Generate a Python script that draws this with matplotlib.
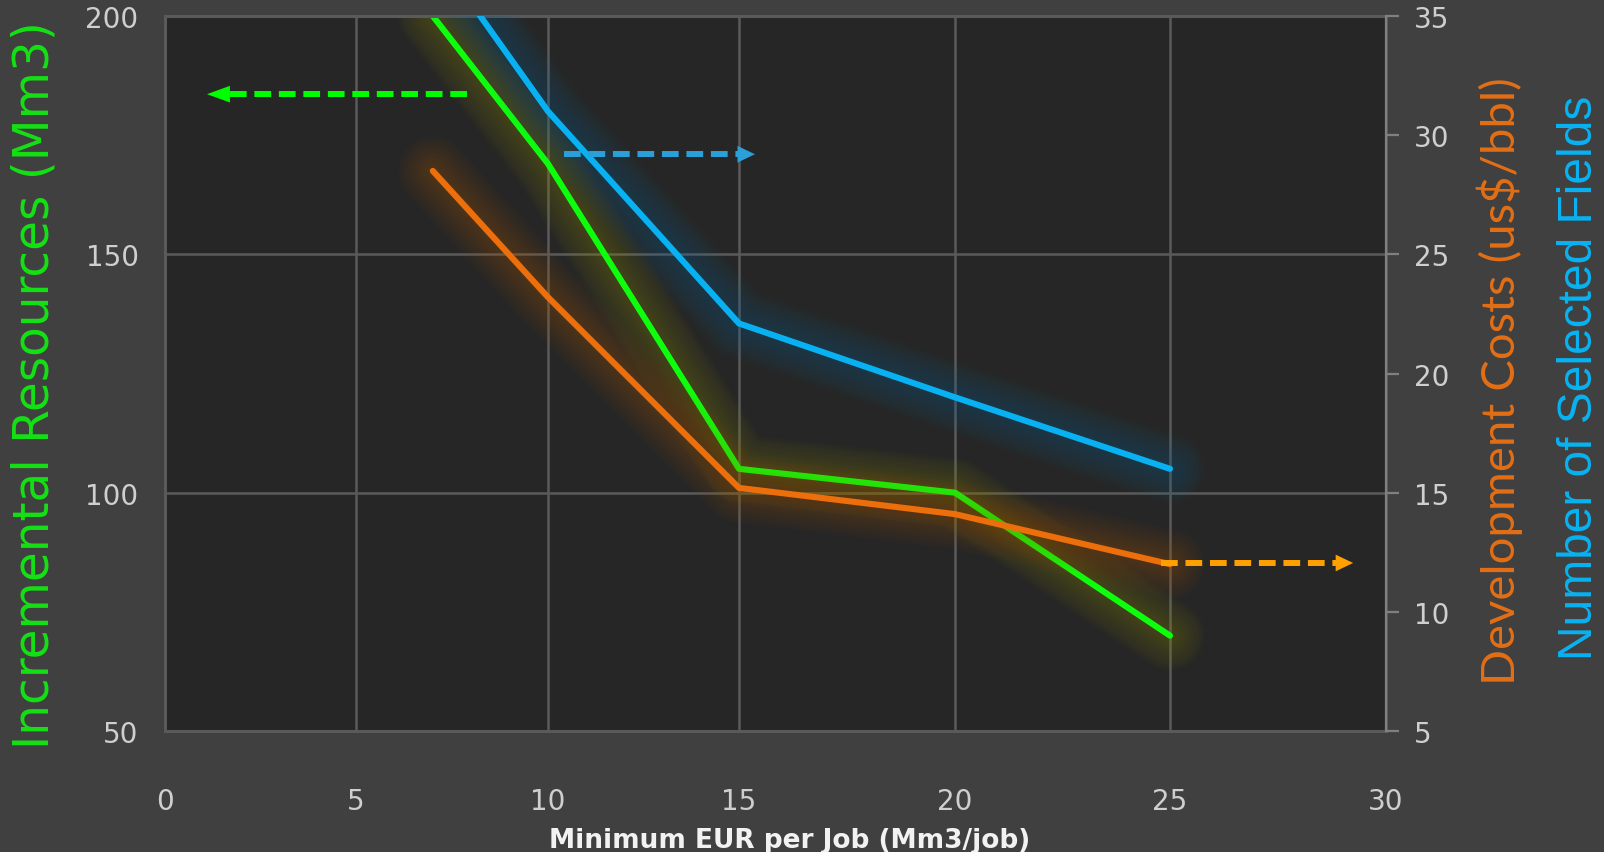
import numpy as np
import matplotlib
matplotlib.use("Agg")
from matplotlib import pyplot as plt

# minimum EUR per job (Mm3/job)
eur_per_job = [7, 10, 15, 20, 25]
# incremental resources, Mm3 (left axis)
incremental_resources = [200, 169, 105, 100, 70]
# development costs, us$/bbl (right axis)
development_costs = [28.5, 23.2, 15.2, 14.1, 12.0]
# number of selected fields, drawn against the right axis
selected_fields = [37.8, 31.0, 22.1, 19.0, 16.0]

x_ticks = [0, 5, 10, 15, 20, 25, 30]
left_ticks = [50, 100, 150, 200]
right_ticks = [5, 10, 15, 20, 25, 30, 35]

# the x axis is not evenly spaced: relative width of each 5-unit band
band_widths = [191, 192, 191, 216, 215, 216]

BG_OUT = "#404040"
BG_IN = "#262626"
GRID = "#5a5a5a"
TICK_TXT = "#cfcfcf"
GREEN = "#0dff0d"
ORANGE = "#ec6f0c"
BLUE = "#08b2f2"

tick_font = ["Liberation Sans Narrow", "DejaVu Sans"]

# piecewise linear mapping for the uneven x axis
xp = np.array(x_ticks, float)
fp = np.concatenate([[0], np.cumsum(band_widths)]) * 30.0 / sum(band_widths)
xp_ext = np.r_[xp[0] - 100, xp, xp[-1] + 100]
fp_ext = np.r_[fp[0] - 100, fp, fp[-1] + 100]


def fwd(v):
    return np.interp(v, xp_ext, fp_ext)


def inv(v):
    return np.interp(v, fp_ext, xp_ext)


def glow_line(axis, x, y, color, glow):
    # soft halo made of wide, faint strokes under the main line
    for w in np.linspace(50, 8, 12):
        axis.plot(x, y, color=glow, lw=w, alpha=0.028,
                  solid_capstyle="round", solid_joinstyle="round")
    axis.plot(x, y, color=color, lw=4.4,
              solid_capstyle="round", solid_joinstyle="round")


def dashed_arrow(axis, x0, x1, tip, y, color, head_len):
    axis.plot([x0, x1], [y, y], color=color, lw=4.3, ls=(0, (2.8, 1.3)),
              solid_capstyle="butt", dash_capstyle="butt", zorder=5)
    axis.annotate("", xy=(tip, y), xytext=(x1, y),
                  arrowprops=dict(arrowstyle=f"-|>,head_length={head_len},head_width=0.2",
                                  mutation_scale=30, color=color, lw=0,
                                  shrinkA=0, shrinkB=0), zorder=5)


fig = plt.figure(figsize=(16.04, 8.53), dpi=100, facecolor=BG_OUT)
ax = fig.add_axes([165 / 1604, 1 - 732 / 853, 1221 / 1604, 715 / 853])
ax.set_facecolor(BG_IN)
ax.set_xscale("function", functions=(fwd, inv))
ax.set_xlim(0, 30)
ax.set_ylim(50, 200)
ax.set_xticks(x_ticks)
ax.set_yticks(left_ticks)
ax.grid(True, color=GRID, lw=1.8)
ax.set_axisbelow(True)
for side in ["left", "bottom", "top", "right"]:
    ax.spines[side].set_color(GRID)
    ax.spines[side].set_linewidth(2.2)
ax.tick_params(axis="both", length=0, colors=TICK_TXT, labelsize=20)
ax.tick_params(axis="y", pad=19)
ax.tick_params(axis="x", pad=40)

ax2 = ax.twinx()
ax2.set_ylim(5, 35)
ax2.set_yticks(right_ticks)
ax2.spines["right"].set_color("#808080")
ax2.spines["right"].set_linewidth(1.6)
for side in ["left", "bottom", "top"]:
    ax2.spines[side].set_visible(False)
ax2.tick_params(axis="y", length=9, width=1.6, color="#808080",
                colors=TICK_TXT, labelsize=20, pad=11)

for lab in ax.get_xticklabels() + ax.get_yticklabels() + ax2.get_yticklabels():
    lab.set_family(tick_font)

glow_line(ax, eur_per_job, incremental_resources, GREEN, "#9a9a00")
glow_line(ax2, eur_per_job, development_costs, ORANGE, "#b85800")
glow_line(ax2, eur_per_job, selected_fields, BLUE, "#1c74a4")

dashed_arrow(ax, 7.9, 1.55, 1.1, 183.6, "#00ff00", 0.55)
dashed_arrow(ax2, 10.42, 15.0, 15.37, 29.2, "#2a9fd8", 0.42)
dashed_arrow(ax2, 24.8, 28.85, 29.24, 12.05, "#ffa000", 0.42)

fig.text(35 / 1604, 1 - 385 / 853, "Incremental Resources (Mm3)", color="#14e014",
         fontsize=35, rotation=90, ha="center", va="center", family="DejaVu Sans")
fig.text(1500 / 1604, 1 - 381 / 853, "Development Costs (us$/bbl)", color="#e36f14",
         fontsize=34, rotation=90, ha="center", va="center", family="Lato")
fig.text(1580 / 1604, 1 - 378 / 853, "Number of Selected Fields", color=BLUE,
         fontsize=34.5, rotation=90, ha="center", va="center", family="Liberation Sans")
fig.text(790 / 1604, 1 - 841 / 853, "Minimum EUR per Job (Mm3/job)", color="#f2f2f2",
         fontsize=19, weight="bold", ha="center", va="center", family="DejaVu Sans")

fig.savefig("out.png", dpi=100, facecolor=BG_OUT)
